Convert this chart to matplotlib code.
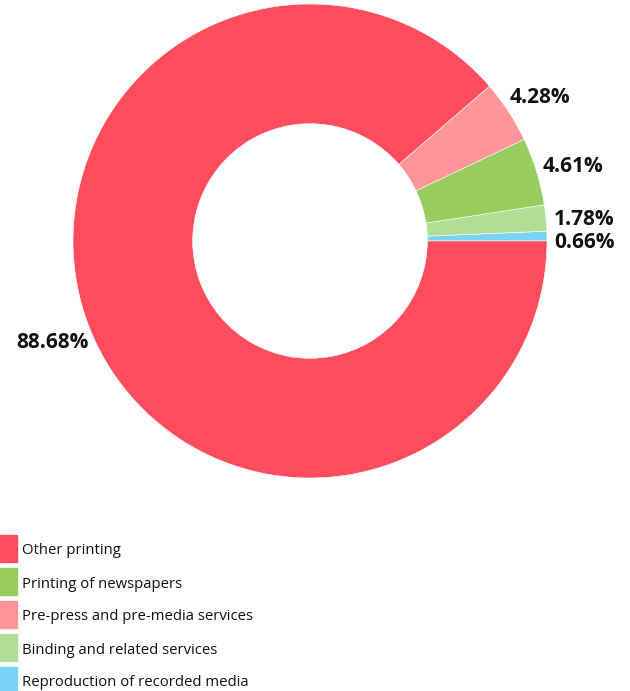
import numpy as np
import matplotlib
matplotlib.use("agg")
import matplotlib.pyplot as plt
from matplotlib.patches import Rectangle

plt.rcParams["font.family"] = ["Open Sans", "DejaVu Sans"]

# drawn counterclockwise from 3 o'clock
CATEGORIES = ["Reproduction of recorded media", "Binding and related services",
              "Printing of newspapers", "Pre-press and pre-media services",
              "Other printing"]
SHARES = [0.66, 1.78, 4.61, 4.28, 88.68]
LABELS = ["0.66%", "1.78%", "4.61%", "4.28%", "88.68%"]
COLORS = ["#7AD3F7", "#B1DE96", "#98CC5E", "#FF9499", "#FF4D5E"]

# legend order as in the original
LEGEND_ORDER = ["Other printing", "Printing of newspapers",
                "Pre-press and pre-media services", "Binding and related services",
                "Reproduction of recorded media"]

W, H = 630, 691
R = 237.0          # outer radius in px
CX, CY = 310, 241  # center in px (from top)

fig = plt.figure(figsize=(W / 100, H / 100), dpi=100)
ax = fig.add_axes([0, 0, 1, 1])

wedges, _ = ax.pie(SHARES, colors=COLORS, startangle=0, counterclock=True,
                   radius=1.0, wedgeprops=dict(width=0.505, edgecolor="white", linewidth=0.4))

ax.set_xlim(-CX / R, (W - CX) / R)
ax.set_ylim(-(H - CY) / R, CY / R)
ax.set_aspect("equal", adjustable="datalim")
ax.axis("off")

# labels centred just outside the ring; small extra nudge for the tiny blue slice
nudge = [-0.03, -0.022, -0.026, -0.028, -0.026]
for w, lab, dy in zip(wedges, LABELS, nudge):
    mid = np.deg2rad((w.theta1 + w.theta2) / 2)
    x, y = 1.16 * np.cos(mid), 1.16 * np.sin(mid) + dy
    ax.text(x, y, lab, ha="center", va="center", fontsize=15, fontweight="bold",
            color="#111111")

# legend as plain squares + text
color_of = dict(zip(CATEGORIES, COLORS))
for i, name in enumerate(LEGEND_ORDER):
    top = 535 + 33 * i
    fig.patches.append(Rectangle((0, 1 - (top + 27) / H), 17 / W, 27 / H,
                                 transform=fig.transFigure, color=color_of[name]))
    fig.text(22 / W, 1 - (top + 16) / H, name, ha="left", va="center",
             fontsize=10.7, color="#111111")

fig.savefig("out.png", dpi=100)
